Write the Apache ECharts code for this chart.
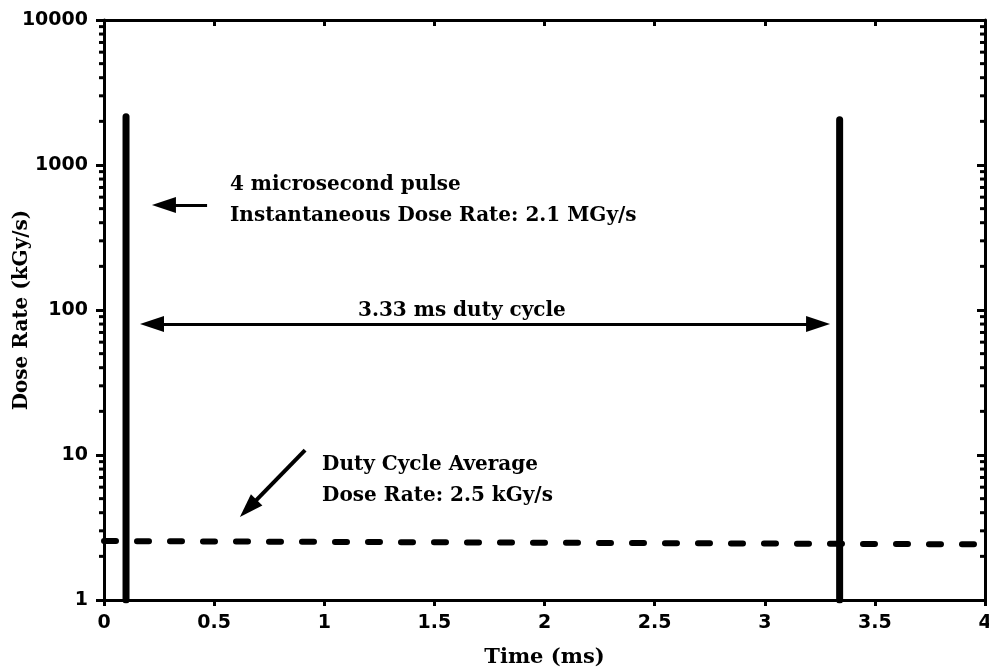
<!DOCTYPE html>
<html>
<head>
<meta charset="utf-8">
<script src="https://cdn.jsdelivr.net/npm/echarts@6/dist/echarts.min.js"></script>
<style>html,body{margin:0;padding:0;background:#fff}#c{width:989px;height:671px}</style>
</head>
<body>
<div id="c"></div>
<script>
// ---- data ----
const pulseTimes = [0.1, 3.34];          // ms
const pulsePeaks = [2150, 2050];         // kGy/s
const pulseBase = 1;                      // kGy/s (axis floor)
const avgTimes = [0.0, 4.0];              // ms
const avgRates = [2.55, 2.42];            // kGy/s (duty cycle average, as drawn)
const xTicks = [0, 0.5, 1, 1.5, 2, 2.5, 3, 3.5, 4];
const yMajor = [1, 10, 100, 1000, 10000];
const yMinor = [2,3,4,5,6,7,8,9,20,30,40,50,60,70,80,90,200,300,400,500,600,700,800,900,2000,3000,4000,5000,6000,7000,8000,9000];
// annotation arrows (data coords, shaft ends; arrow heads sit at the end)
const pulseArrow = [[0.468, 530], [0.272, 530]];
const cycleArrow = [[0.218, 80], [3.242, 80]];
const avgArrow = [[0.913, 10.8], [0.655, 4.28]];

const serif = 'DejaVu Serif';
const sans = 'DejaVu Sans';

const chart = echarts.init(document.getElementById('c'), null, {renderer: 'canvas'});

const pulseSeries = pulseTimes.map((t, i) => ({
  type: 'line', xAxisIndex: 0, yAxisIndex: 0, symbol: 'none', silent: true,
  data: [[t, pulseBase], [t, pulsePeaks[i]]],
  lineStyle: {color: '#000', width: 7, cap: 'round'}
}));

function arrowLine(pts, both) {
  return {
    symbol: both ? ['triangle', 'triangle'] : ['none', 'triangle'],
    symbolSize: [16, 24],
    data: [[{coord: pts[0]}, {coord: pts[1]}]]
  };
}

const option = {
  animation: false,
  backgroundColor: '#fff',
  grid: {left: 104, right: 4, top: 20, bottom: 71, containLabel: false, outerBoundsMode: 'none'},
  xAxis: [{
    type: 'value', min: 0, max: 4, interval: 0.5, position: 'bottom',
    axisLine: {show: true, onZero: false, lineStyle: {color: '#000', width: 3}},
    axisTick: {show: true, inside: false, length: 6, lineStyle: {color: '#000', width: 3}},
    splitLine: {show: false},
    axisLabel: {color: '#000', fontFamily: sans, fontWeight: 'bold', fontSize: 19, margin: 14,
      formatter: v => xTicks.includes(v) ? String(v) : ''},
    name: 'Time (ms)', nameLocation: 'middle', nameGap: 47, nameMoveOverlap: false,
    nameTextStyle: {color: '#000', fontFamily: serif, fontWeight: 'bold', fontSize: 21}
  }, {
    type: 'value', min: 0, max: 4, interval: 0.5, position: 'top',
    axisLine: {show: true, onZero: false, lineStyle: {color: '#000', width: 3}},
    axisTick: {show: true, inside: true, length: 6, lineStyle: {color: '#000', width: 3}},
    axisLabel: {show: false}, splitLine: {show: false}
  }],
  yAxis: [{
    type: 'log', logBase: 10, min: 1, max: 10000, position: 'left',
    axisLine: {show: true, onZero: false, lineStyle: {color: '#000', width: 3}},
    axisTick: {show: true, inside: false, length: 8, lineStyle: {color: '#000', width: 3}},
    splitLine: {show: false},
    axisLabel: {color: '#000', fontFamily: sans, fontWeight: 'bold', fontSize: 19, margin: 16,
      formatter: v => String(Math.round(v))},
    name: 'Dose Rate (kGy/s)', nameLocation: 'middle', nameGap: 72, nameRotate: 90, nameMoveOverlap: false,
    nameTextStyle: {color: '#000', fontFamily: serif, fontWeight: 'bold', fontSize: 20}
  }, {
    type: 'log', logBase: 10, min: 1, max: 10000, position: 'right',
    axisLine: {show: true, onZero: false, lineStyle: {color: '#000', width: 3}},
    axisTick: {show: true, inside: true, length: 8, lineStyle: {color: '#000', width: 3}},
    axisLabel: {show: false}, splitLine: {show: false}
  }],
  series: [
    ...pulseSeries,
    {
      type: 'line', symbol: 'none', silent: true,
      data: avgTimes.map((t, i) => [t, avgRates[i]]),
      lineStyle: {color: '#000', width: 6, type: [12, 21], cap: 'round'},
      z: 3
    },
    {
      type: 'custom', silent: true, clip: false,
      data: yMinor.map(v => [0, v]),
      renderItem: function (params, api) {
        const p = api.coord([0, api.value(1)]);
        const q = api.coord([4, api.value(1)]);
        return {type: 'group', children: [
          {type: 'line', shape: {x1: p[0], y1: p[1], x2: p[0] - 5, y2: p[1]}, style: {stroke: '#000', lineWidth: 3}},
          {type: 'line', shape: {x1: q[0], y1: q[1], x2: q[0] - 5, y2: q[1]}, style: {stroke: '#000', lineWidth: 3}}
        ]};
      }
    },
    {
      type: 'line', symbol: 'none', silent: true, data: [],
      markLine: Object.assign({silent: true, animation: false, label: {show: false},
        lineStyle: {color: '#000', width: 3, type: 'solid'}}, arrowLine(pulseArrow, false))
    },
    {
      type: 'line', symbol: 'none', silent: true, data: [],
      markLine: Object.assign({silent: true, animation: false, label: {show: false},
        lineStyle: {color: '#000', width: 3, type: 'solid'}}, arrowLine(cycleArrow, true))
    },
    {
      type: 'line', symbol: 'none', silent: true, data: [],
      markLine: Object.assign({silent: true, animation: false, label: {show: false},
        lineStyle: {color: '#000', width: 4, type: 'solid'}}, arrowLine(avgArrow, false))
    }
  ]
};
chart.setOption(option);

function px(pt) { return chart.convertToPixel({xAxisIndex: 0, yAxisIndex: 0}, pt); }
const textStyleBase = {fill: '#000', fontFamily: serif, fontWeight: 'bold', fontSize: 20};
const notes = [
  {text: '4 microsecond pulse', at: [0.572, 728], align: 'left'},
  {text: 'Instantaneous Dose Rate: 2.1 MGy/s', at: [0.572, 445], align: 'left'},
  {text: '3.33 ms duty cycle', at: [1.625, 98.4], align: 'center'},
  {text: 'Duty Cycle Average', at: [0.99, 8.53], align: 'left'},
  {text: 'Dose Rate: 2.5 kGy/s', at: [0.99, 5.21], align: 'left'}
];
chart.setOption({
  graphic: notes.map(n => {
    const p = px(n.at);
    return {type: 'text', x: p[0], y: p[1], silent: true,
      style: Object.assign({}, textStyleBase, {text: n.text, align: n.align, verticalAlign: 'middle'})};
  })
});
</script>
</body>
</html>
